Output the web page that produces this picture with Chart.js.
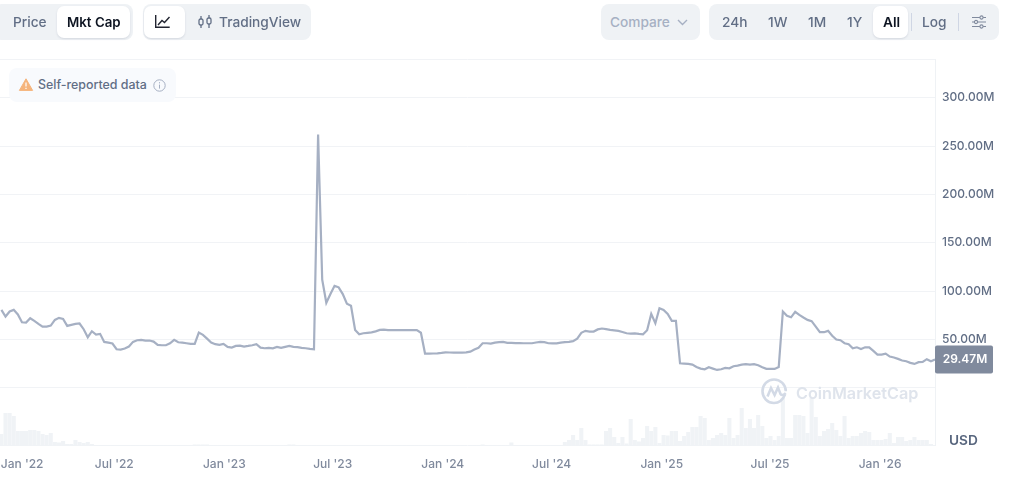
<!DOCTYPE html>
<html>
<head>
<meta charset="utf-8">
<title>Mkt Cap</title>
<script src="https://cdn.jsdelivr.net/npm/chart.js@4/dist/chart.umd.min.js"></script>
<style>
  html, body { margin: 0; padding: 0; background: #fff; }
  body { width: 1011px; height: 493px; position: relative; overflow: hidden; font-family: Inter, sans-serif; }
  canvas { position: absolute; left: 0; top: 0; }
  .box { position: absolute; border-radius: 8px; background: #eff2f5; }
  .pill { position: absolute; border-radius: 7px; background: #fff; box-shadow: 0 1px 2px rgba(88,102,126,.18); }
  .t { position: absolute; white-space: nowrap; font-size: 13.7px; line-height: 18px; font-weight: 500; color: #616e85; }
  .sep { position: absolute; width: 1px; background: #cfd6e4; }
  svg { position: absolute; overflow: visible; }
</style>
</head>
<body>
<canvas id="chart" width="1011" height="493"></canvas>

<div class="box" style="left:-6px;top:4px;width:139px;height:36px"></div>
<div class="pill" style="left:57px;top:6px;width:73px;height:32px"></div>
<div class="t" style="left:13px;top:13px">Price</div>
<div class="t" style="left:67px;top:13px;color:#0d1421;font-weight:600;font-size:13.3px">Mkt Cap</div>

<div class="box" style="left:143px;top:4px;width:168px;height:36px"></div>
<div class="pill" style="left:144px;top:6px;width:41px;height:32px"></div>
<svg style="left:155px;top:15px" width="15" height="13" fill="none" stroke="#222531" stroke-width="1.4">
  <path d="M0.7 0v12.3h14"/><path d="M3 10l4-4.5 2.5 2 5-5.5"/>
</svg>
<svg style="left:198px;top:15px" width="15" height="14" fill="none" stroke="#616e85" stroke-width="1.3">
  <rect x="1" y="4" width="4" height="6" rx="1.5"/><rect x="9" y="3" width="4" height="6" rx="1.5"/>
  <path d="M3 1v3M3 10v3M11 0v3M11 9v4"/>
</svg>
<div class="t" style="left:219px;top:13px">TradingView</div>

<div class="box" style="left:601px;top:4px;width:99px;height:36px"></div>
<div class="t" style="left:610px;top:13px;color:#a6b0c3">Compare</div>
<svg style="left:677px;top:19px" width="11" height="7" fill="none" stroke="#a6b0c3" stroke-width="1.4"><path d="M1 1l4.5 4.5L10 1"/></svg>

<div class="box" style="left:709px;top:4px;width:290px;height:36px"></div>
<div class="pill" style="left:873px;top:6px;width:35px;height:32px"></div>
<div class="t" style="left:722px;top:13px">24h</div>
<div class="t" style="left:768px;top:13px">1W</div>
<div class="t" style="left:808px;top:13px">1M</div>
<div class="t" style="left:847px;top:13px">1Y</div>
<div class="t" style="left:883px;top:13px;color:#0d1421;font-weight:600">All</div>
<div class="sep" style="left:911px;top:13px;height:18px"></div>
<div class="t" style="left:922px;top:13px">Log</div>
<div class="sep" style="left:958px;top:13px;height:18px"></div>
<svg style="left:972px;top:15px" width="14" height="14" fill="#eff2f5" stroke="#808a9d" stroke-width="1.1">
  <path d="M0 2.5h14M0 7h14M0 11.5h14"/><circle cx="9.5" cy="2.5" r="1.6"/><circle cx="4" cy="7" r="1.6"/><circle cx="9.5" cy="11.5" r="1.6"/>
</svg>

<div class="box" style="left:9px;top:68px;width:167px;height:34px;background:#f8fafd"></div>
<svg style="left:19px;top:78px" width="14" height="13"><path d="M7 0.8L13.6 12.4H0.4Z" fill="#f5b47c" stroke="#f5b47c" stroke-linejoin="round"/><path d="M7 4.5v4M7 9.8v1.2" stroke="#fff" stroke-width="1.2"/></svg>
<div class="t" style="left:38px;top:76px;font-size:12.4px">Self-reported data</div>
<svg style="left:153px;top:79px" width="13" height="13" fill="none" stroke="#a6b0c3" stroke-width="1"><circle cx="6.5" cy="6.5" r="5.7"/><path d="M6.5 5.6v4M6.5 3.2v1.2"/></svg>

<svg style="left:761px;top:378px" width="27" height="27" fill="none" stroke="#d3dae6" stroke-width="2.6">
  <path d="M24 16.5C22 21.5 18 25 13 25 6.5 25 1.5 19.7 1.5 13.2 1.5 6.7 6.5 1.5 13 1.5 19.5 1.5 24.8 6.7 24.8 13.2"/>
  <path d="M6.5 18.5l3.5-8.5 3.6 7 3.4-7.5 2.5 6.5c1 1.5 3 1.5 5.3-.8"/>
</svg>
<div class="t" style="left:796px;top:382px;font-size:16.2px;line-height:22px;font-weight:600;color:#dfe4ec">CoinMarketCap</div>
<div class="t" style="left:949px;top:431px;font-weight:600;color:#58667e">USD</div>

<script>
// market cap in millions USD, roughly one point per week
var firstDay = -7.65; // days from 1 Jan 2022
var dayStep = 6.874;
var marketCap = [
  80.7, 73.8, 79, 80.7, 75.9, 67.9, 67.6, 72, 69.3, 66.2, 63.4, 63.4, 64.5, 70.3, 72.4, 71.4,
  64.1, 65.2, 66.2, 66.6, 60.7, 52.4, 58.6, 55.2, 55.9, 47.6, 46.9, 45.9, 40, 39.7, 40.7, 42.8,
  47.6, 49.3, 49.7, 49, 49, 47.9, 44.5, 44.1, 44.1, 46.2, 49.7, 47.2, 46.9, 46.2, 45.5, 45.5,
  57.2, 54.8, 51, 46.9, 45.2, 44.5, 45.5, 42.4, 41.7, 43.4, 43.8, 42.8, 43.4, 44.1, 45.2, 41.7,
  41, 41.4, 41, 42.4, 41.4, 42.4, 43.4, 42.4, 42.1, 41.4, 41, 40.3, 40, 262, 112, 88,
  97, 105.5, 104, 97, 87, 85, 60, 55.5, 56.5, 57, 57.5, 58.5, 60, 60.2, 59.8, 59.7,
  59.7, 59.7, 59.7, 59.7, 59.7, 59.7, 57, 35.5, 35.5, 35.6, 35.7, 36.2, 36.8, 36.6, 36.5, 36.4,
  36.5, 36.7, 37.5, 39.8, 41.5, 46.2, 46.2, 45.9, 46.8, 47.3, 47.6, 46.6, 46.6, 46.4, 46.3, 46.2,
  46.2, 46.2, 47, 47.6, 47.4, 46.2, 46, 46, 46.8, 47.4, 47.6, 48.3, 51, 57, 59, 58.3,
  58.3, 60.5, 61.4, 60.8, 60, 59.5, 59, 57.8, 56.5, 56.2, 56.4, 55.9, 55.5, 59.7, 76.5, 66.9,
  82.4, 80.7, 76.5, 69.3, 69.3, 25.5, 25.2, 24.8, 24.1, 21.7, 20, 19.3, 21.4, 20, 18.6, 19.3,
  20.7, 20.3, 22.4, 23.1, 24.1, 24.5, 24.1, 24.5, 23.4, 21.4, 19.7, 19.7, 19.7, 21.7, 79, 74.5,
  73, 78.6, 75.5, 72.8, 70.3, 69, 63.4, 57.6, 57.6, 59, 54, 50, 49.3, 46.2, 45.2, 41,
  42, 40.3, 42, 42, 38.3, 34.5, 34.5, 35.5, 32.4, 31.4, 30, 28.3, 27.6, 25.9, 24.8, 26.6,
  26.9, 29.7, 27.6, 29.47
];
// volume, relative height
var volume = [
  11, 32, 32, 29, 14, 14, 14, 15, 15, 14, 11, 10, 12, 3, 2.5, 4,
  1, 1, 5, 3, 2, 3, 1, 0, 0, 0, 0, 0, 0, 0, 0, 0,
  0, 0, 0, 0, 0, 0, 0, 0, 0, 0, 0, 0, 0, 0, 0, 0.5,
  0.5, 0.5, 0.5, 0, 0, 0, 0, 0, 0, 0, 0, 0, 0, 0, 0, 0,
  0, 0, 0, 0, 0, 0, 0.5, 0.5, 0, 0, 0, 0, 0, 0, 0, 0,
  0, 0, 0, 0, 0, 0, 0, 0, 0, 0, 0, 0, 0, 0, 0, 0,
  0, 0, 0, 0, 0, 0, 0, 0, 0, 0, 0, 0, 0, 0, 0, 0,
  0, 0, 0, 0, 0, 0.5, 0, 0, 0, 0, 0, 0, 2.5, 0, 0, 0,
  0, 0, 0, 0, 0, 0, 0, 0, 0, 3, 5, 10, 5, 17, 5, 0.5,
  0.5, 0.5, 0.5, 14, 17, 8, 2, 8, 1.5, 26, 5, 3.5, 7, 19, 14, 18,
  2, 10, 9.5, 14, 14, 4, 9, 13, 18, 18, 29, 27, 5, 7, 10, 12,
  10, 27, 7, 10, 37, 17, 26, 17, 30, 19, 7, 9, 5, 9, 47, 7,
  7, 30, 30, 29, 12, 47, 28, 9, 14, 16, 22, 15, 9, 29, 7, 9,
  9, 12, 14, 13, 5, 5, 5, 6, 12, 2, 8, 8, 4, 5, 8, 5,
  5, 5, 1, 0
];

// first label is pushed right so it stays inside the chart, like the original
var tickDays = [27, 181, 365, 546, 730, 912, 1096, 1277, 1461];
var tickLabels = ["Jan '22", "Jul '22", "Jan '23", "Jul '23", "Jan '24", "Jul '24", "Jan '25", "Jul '25", "Jan '26"];
var yGrid = [-59.3, 0, 50, 100, 150, 200, 250, 300, 340];
var yLabels = [50, 100, 150, 200, 250, 300];

function points(values) {
  return values.map(function(v, i) {
    return { x: firstDay + dayStep * i, y: v };
  });
}

var lastValueTag = {
  id: 'lastValueTag',
  afterDraw: function(chart) {
    var ctx = chart.ctx;
    var last = marketCap[marketCap.length - 1];
    var y = chart.scales.y.getPixelForValue(last);
    ctx.save();
    ctx.fillStyle = '#808a9d';
    ctx.beginPath();
    ctx.roundRect(935, y - 14, 58, 28, 2);
    ctx.fill();
    ctx.fillStyle = '#fff';
    ctx.font = '600 12px Inter';
    ctx.textAlign = 'center';
    ctx.textBaseline = 'middle';
    ctx.fillText(last.toFixed(2) + 'M', 965, y);
    ctx.restore();
  }
};

new Chart(document.getElementById('chart').getContext('2d'), {
  type: 'line',
  data: {
    datasets: [
      {
        label: 'Mkt Cap',
        data: points(marketCap),
        yAxisID: 'y',
        borderColor: '#a6b0c3',
        borderWidth: 2.2,
        pointRadius: 0,
        tension: 0,
        order: 1
      },
      {
        type: 'bar',
        label: 'Volume',
        data: points(volume),
        yAxisID: 'yVol',
        backgroundColor: '#f0f3f6',
        barThickness: 3.4,
        order: 2
      }
    ]
  },
  plugins: [lastValueTag],
  options: {
    responsive: false,
    animation: false,
    events: [],
    layout: { padding: { top: 59 } },
    plugins: { legend: { display: false }, tooltip: { enabled: false } },
    scales: {
      x: {
        type: 'linear',
        offset: false,
        min: -10,
        max: 1552.7,
        grid: { display: false, offset: false },
        border: { display: false },
        afterBuildTicks: function(scale) {
          scale.ticks = tickDays.map(function(d) { return { value: d }; });
        },
        afterFit: function(scale) {
          scale.height = 47.7;
          scale.paddingLeft = 0;
          scale.paddingRight = 0;
        },
        ticks: {
          autoSkip: false,
          maxRotation: 0,
          padding: 4,
          color: '#808a9d',
          font: { family: 'Inter', size: 12, weight: '500' },
          callback: function(v) { return tickLabels[tickDays.indexOf(v)]; }
        }
      },
      y: {
        position: 'right',
        min: -59.3,
        max: 340,
        grid: { color: '#f1f3f6', lineWidth: 1, drawTicks: false },
        border: { display: true, color: '#eff2f5' },
        afterBuildTicks: function(scale) {
          scale.ticks = yGrid.map(function(v) { return { value: v }; });
        },
        afterFit: function(scale) {
          scale.width = 76;
          scale.paddingTop = 0;
          scale.paddingBottom = 0;
        },
        ticks: {
          autoSkip: false,
          padding: 7,
          color: '#616e85',
          font: { family: 'Inter', size: 12, weight: '500' },
          callback: function(v) { return yLabels.indexOf(v) >= 0 ? v + '.00M' : ''; }
        }
      },
      yVol: {
        display: false,
        min: 0,
        max: 386
      }
    }
  }
});
</script>
</body>
</html>
